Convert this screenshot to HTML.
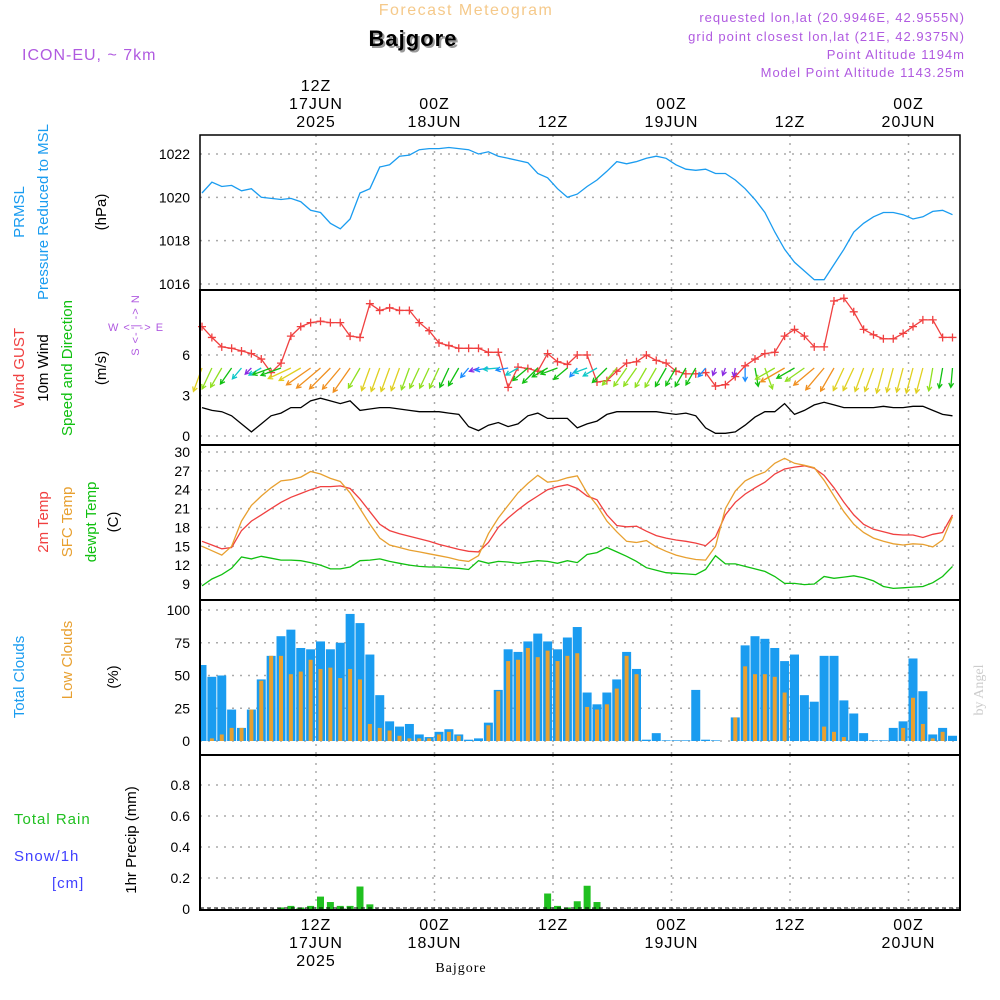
<!DOCTYPE html>
<html><head><meta charset="utf-8"><style>
html,body{margin:0;padding:0;background:#fff;}
svg{display:block;font-family:"Liberation Sans",sans-serif;}
</style></head><body>
<svg id="c" width="1000" height="1000" viewBox="0 0 1000 1000" xmlns="http://www.w3.org/2000/svg">
<text x="466" y="15" font-size="16" fill="#f5c98a" text-anchor="middle" letter-spacing="1.5">Forecast Meteogram</text>
<text x="415" y="48" font-size="22" font-weight="bold" fill="#999" text-anchor="middle" letter-spacing="1">Bajgore</text>
<text x="413" y="46" font-size="22" font-weight="bold" fill="#000" text-anchor="middle" letter-spacing="1">Bajgore</text>
<text x="22" y="60" font-size="16" fill="#b05ae0" letter-spacing="1">ICON-EU, ~ 7km</text>
<g font-size="13" fill="#b05ae0" text-anchor="end" letter-spacing="1">
<text x="965" y="22">requested lon,lat (20.9946E, 42.9555N)</text>
<text x="965" y="41">grid point closest lon,lat (21E, 42.9375N)</text>
<text x="965" y="59">Point Altitude 1194m</text>
<text x="965" y="77">Model Point Altitude 1143.25m</text>
</g>
<text transform="translate(983,690) rotate(-90)" font-family="Liberation Serif,serif" font-size="14" fill="#ccc" text-anchor="middle">by Angel</text>
<g id="grid"></g><g id="marks"></g><g id="frames"></g><g id="labels"></g>
</svg>
<script>
const pressure=[1020.2,1020.7,1020.5,1020.55,1020.3,1020.4,1020.0,1019.95,1019.9,1019.95,1019.8,1019.4,1019.3,1018.8,1018.55,1019.0,1020.2,1020.4,1021.4,1021.5,1021.9,1021.95,1022.2,1022.25,1022.25,1022.3,1022.25,1022.2,1022.0,1022.1,1021.9,1021.8,1021.7,1021.6,1021.1,1020.9,1020.4,1020.0,1020.15,1020.5,1020.8,1021.2,1021.65,1021.55,1021.65,1021.8,1021.9,1021.8,1021.5,1021.3,1021.25,1021.3,1021.1,1021.1,1020.8,1020.4,1019.9,1019.3,1018.4,1017.6,1017.0,1016.6,1016.2,1016.2,1016.9,1017.6,1018.4,1018.8,1019.1,1019.3,1019.3,1019.2,1019.0,1019.1,1019.35,1019.4,1019.2];
const gust=[8.1,7.3,6.6,6.5,6.3,6.1,5.7,4.7,5.4,7.4,8.1,8.4,8.5,8.4,8.4,7.4,7.3,9.8,9.3,9.5,9.3,9.3,8.4,7.8,6.9,6.7,6.5,6.5,6.5,6.2,6.2,3.6,5.1,5.0,4.8,6.1,5.5,5.3,6.0,6.0,4.0,4.1,4.8,5.4,5.5,6.0,5.6,5.4,4.8,4.6,4.6,4.7,3.7,3.8,4.4,5.2,5.7,6.1,6.2,7.4,7.9,7.4,6.6,6.6,10.0,10.2,9.2,7.9,7.5,7.2,7.2,7.6,8.1,8.6,8.6,7.3,7.3];
const wind=[2.1,1.9,1.8,1.5,0.9,0.3,0.9,1.5,1.7,2.1,2.1,2.6,2.8,2.6,2.4,2.6,1.9,2.0,2.1,2.1,2.0,1.9,1.8,1.8,1.8,1.7,1.6,0.7,0.4,0.8,1.0,0.7,0.9,1.5,1.7,1.3,1.3,1.3,0.6,0.9,1.1,1.6,1.8,1.8,1.8,1.8,1.8,1.7,1.6,1.7,1.5,0.6,0.2,0.2,0.3,0.8,1.4,1.8,1.8,2.4,1.6,1.9,2.3,2.5,2.3,2.1,2.1,2.1,2.1,2.2,2.1,2.1,2.2,2.2,1.9,1.6,1.5];
const windDir=[20,25,30,35,40,45,60,70,70,65,60,55,50,45,40,35,30,20,20,20,20,20,25,25,25,25,30,40,70,80,85,80,60,50,45,60,70,50,40,70,60,45,40,35,35,30,30,30,30,30,30,40,20,20,10,0,350,340,60,60,60,55,50,40,30,25,25,20,20,15,15,15,15,15,10,10,5];
const temp2m=[15.8,15.2,14.6,14.8,17.5,19,20,21,22,22.8,23.4,24.0,24.5,24.5,24.6,24.2,22.5,20.5,18.5,17.5,17.0,16.6,16.2,15.8,15.3,14.9,14.5,14.2,14.1,15.6,18,19.5,20.8,22,23,24,24.5,24.8,24.2,23,22.4,20,18.3,18.1,18.2,17.4,16.7,16.3,16.0,15.8,15.5,15.1,16.5,20,22,23.3,24.3,25.2,26.5,27.3,27.6,27.8,27.4,26.3,24.3,22,20,18.5,17.7,17.3,16.9,16.8,16.8,16.4,16.9,17.2,20];
const tempSfc=[15,14.3,13.6,15,19,21.5,23,24.3,25.4,25.6,26.0,26.9,26.5,25.8,25.3,23.5,21,18.5,16.3,15.2,14.8,14.4,14.1,13.8,13.5,13.2,12.8,12.6,13.5,17,19.5,21.5,23.5,25,26.3,25.2,25.4,25.9,26.2,23.5,21.5,19,17.3,15.8,15.6,15.9,14.9,14.2,13.6,13.2,12.9,12.8,15,21,23.8,25.4,26.2,26.8,28.2,29.0,28.2,27.9,27.5,25.5,23,20.5,18.5,17.2,16.3,15.8,15.4,15.2,15.4,15.3,14.9,16,19.7];
const dewpt=[8.7,9.8,10.5,11.5,13.3,13.0,13.4,13.1,12.8,12.8,12.7,12.4,12.0,11.4,11.4,11.7,12.7,12.8,13.0,12.6,12.3,12.0,11.8,11.7,11.7,11.6,11.5,11.3,12.7,12.3,12.6,12.5,12.3,12.5,12.7,12.6,12.3,12.7,12.4,13.7,14.0,14.8,14.1,13.4,12.6,11.6,11.2,10.8,10.7,10.6,10.5,11.3,13.5,12.2,12.2,11.8,11.4,11.0,10.2,9.1,9.1,8.9,9.0,10.2,9.9,10.1,10.3,10.0,9.5,8.6,8.3,8.4,8.5,8.6,9.2,10.2,11.8];
const totalClouds=[58,49,50,24,10,24,47,65,80,85,71,70,76,70,75,97,90,66,35,15,11,13,5,3,7,9,5,1,2,14,39,70,68,76,82,76,70,79,87,37,28,37,47,68,55,1,6,0.5,0.5,0.5,39,1,0.5,0,18,73,80,78,71,61,66,35,30,65,65,31,21,6,0.5,0.5,10,15,63,38,5,10,4];
const lowClouds=[0,2,5,10,10,24,46,65,65,51,53,62,55,56,48,55,47,13,10,8,4,2,2,2,5,7,4,0,0,12,38,61,62,71,64,69,61,65,67,26,24,28,40,65,51,0,0,0,0,0,0,0,0,0,18,57,51,51,49,37,0,0,0,11,7,3,0,0,0,0,0,10,33,13,2,7,0];
const precip=[0,0,0,0,0,0,0,0,0.01,0.02,0.01,0.02,0.08,0.045,0.02,0.02,0.145,0.03,0,0,0,0,0,0,0,0,0,0,0,0,0,0,0,0,0,0.1,0.02,0.01,0.05,0.15,0.045,0,0,0,0,0,0,0,0,0,0,0,0,0,0,0,0,0,0,0,0,0,0,0,0,0,0,0,0,0,0,0,0,0,0,0,0];
const pTicks=[1016,1018,1020,1022];
const wTicks=[0,3,6];
const tTicks=[9,12,15,18,21,24,27,30];
const cTicks=[0,25,50,75,100];
const rTicks=[0,0.2,0.4,0.6,0.8];
const timeLabels=[["12Z","17JUN","2025"],["00Z","18JUN"],["12Z"],["00Z","19JUN"],["12Z"],["00Z","20JUN"]];
const timeHours=[12,24,36,48,60,72];

const NS="http://www.w3.org/2000/svg";
const L=200,R=960;
const xi=i=>202+i*9.875;
const xh=h=>316+(h-12)*9.875;
function lin(d0,d1,p0,p1){return v=>p0+(v-d0)*(p1-p0)/(d1-d0);}
const yP=lin(1016,1022,284,154), yW=lin(0,6,436,355), yT=lin(9,30,584,452), yC=lin(0,100,741,610), yR=lin(0,0.8,909,785);
const panels=[[135,290],[290,445],[445,600],[600,755],[755,910]];
function el(tag,attrs,parent,text){const e=document.createElementNS(NS,tag);for(const k in attrs)e.setAttribute(k,attrs[k]);if(text!==undefined)e.textContent=text;document.getElementById(parent).appendChild(e);return e;}
function line(arr,y,color,name){const pts=arr.map((v,i)=>xi(i).toFixed(1)+","+y(v).toFixed(1)).join(" ");const e=el("polyline",{points:pts,fill:"none",stroke:color,"stroke-width":1.3},"marks");

}

timeHours.forEach(h=>panels.forEach(p=>{el("line",{x1:xh(h),x2:xh(h),y1:p[0],y2:p[1],stroke:"#aaa","stroke-dasharray":"2,6","stroke-width":1.5},"grid");}));
function hgrid(ticks,y,fmt){ticks.forEach(t=>{el("line",{x1:L,x2:R,y1:y(t),y2:y(t),stroke:"#aaa","stroke-dasharray":"2,6","stroke-width":1.5},"grid");
const tx=el("text",{x:190,y:y(t)+5,"font-size":14,"text-anchor":"end",fill:"#000"},"labels",fmt?fmt(t):t);

});}
hgrid(pTicks,yP);hgrid(wTicks,yW);hgrid(tTicks,yT);hgrid(cTicks,yC);hgrid(rTicks,yR,t=>t==0?"0":t.toFixed(1));
panels.forEach((p,k)=>{const r=el("rect",{x:L,y:p[0],width:R-L,height:p[1]-p[0],fill:"none",stroke:"#000","stroke-width":k==0?1:2},"frames");

});
el("rect",{x:L,y:135,width:R-L,height:775,fill:"none",stroke:"#000","stroke-width":1.5},"frames");

line(pressure,yP,"#1a9cf0","pressure-line");
line(gust,yW,"#f04040","gust-line");
gust.forEach((v,i)=>{const x=xi(i),y=yW(v);const g=el("path",{d:`M${x-4},${y}H${x+4}M${x},${y-4}V${y+4}`,stroke:"#f04040","stroke-width":1.3},"marks");

});
line(wind,yW,"#000","wind-speed-line");
function wcol(s){if(s<0.45)return"#8a2be2";if(s<0.9)return"#1a8cff";if(s<1.3)return"#10c8c8";if(s<1.75)return"#10c010";if(s<2.0)return"#90e020";if(s<2.3)return"#e0d020";return"#f09020";}
wind.forEach((s,i)=>{const x=xi(i),y=368;const a=(windDir[i]+180)*Math.PI/180;const len=6+s*9;const dx=Math.sin(a)*len,dy=-Math.cos(a)*len;const x2=x+dx,y2=y+dy;
const ang=Math.atan2(dy,dx);const h=5;const c=wcol(s);
const p=el("path",{d:`M${x},${y}L${x2},${y2}M${x2-h*Math.cos(ang-0.5)},${y2-h*Math.sin(ang-0.5)}L${x2},${y2}L${x2-h*Math.cos(ang+0.5)},${y2-h*Math.sin(ang+0.5)}`,stroke:c,"stroke-width":1.3,fill:"none"},"marks");

});
line(temp2m,yT,"#f04040","temp-2m-line");
line(tempSfc,yT,"#e8a030","temp-sfc-line");
line(dewpt,yT,"#10c010","dewpoint-line");
totalClouds.forEach((v,i)=>{const x=xi(i);const x0=Math.max(L,x-4.5),x1=Math.min(R,x+4.5);const b=el("rect",{x:x0,y:yC(v),width:x1-x0,height:yC(0)-yC(v),fill:"#1a9cf0"},"marks");

});
lowClouds.forEach((v,i)=>{const x=xi(i);const b=el("rect",{x:x-2,y:yC(v),width:4,height:yC(0)-yC(v),fill:"#e8a030"},"marks");

});
precip.forEach((v,i)=>{if(v<=0)return;const x=xi(i);const b=el("rect",{x:x-3.5,y:yR(v),width:7,height:yR(0)-yR(v),fill:"#20c020"},"marks");

});
el("line",{x1:L,x2:R,y1:yR(0)-1,y2:yR(0)-1,stroke:"#000","stroke-dasharray":"4,3","stroke-width":1},"marks");

timeLabels.forEach((lab,k)=>{const x=xh(timeHours[k]);
const top=[...lab].reverse();top.forEach((s,j)=>{const t=el("text",{x:x,y:127-j*18,"font-size":16,"text-anchor":"middle","letter-spacing":1},"labels",s);

});
lab.forEach((s,j)=>{const t=el("text",{x:x,y:930+j*18,"font-size":16,"text-anchor":"middle","letter-spacing":1},"labels",s);

});});
const bl=el("text",{x:461,y:972,"font-size":14,"font-family":"Liberation Serif,serif","text-anchor":"middle","letter-spacing":1},"labels","Bajgore");



function vlab(x,cy,txt,col,name,size){const t=el("text",{transform:`translate(${x},${cy}) rotate(-90)`,"font-size":size||15,fill:col,"text-anchor":"middle"},"labels",txt);

}
vlab(24,212,"PRMSL","#1a9cf0","prmsl-label");
vlab(48,212,"Pressure Reduced to MSL","#1a9cf0","pressure-axis-title");
vlab(106,212,"(hPa)","#000","pressure-unit");
vlab(24,368,"Wind GUST","#f04040","gust-label");
vlab(48,368,"10m Wind","#000","wind-label");
vlab(72,368,"Speed and Direction","#10c010","wind-direction-label");
vlab(106,368,"(m/s)","#000","wind-unit");
vlab(48,522,"2m Temp","#f04040","temp-2m-label");
vlab(72,522,"SFC Temp","#e8a030","temp-sfc-label");
vlab(96,522,"dewpt Temp","#10c010","dewpoint-label");
vlab(118,522,"(C)","#000","temp-unit");
vlab(24,677,"Total Clouds","#1a9cf0","total-clouds-label");
vlab(72,660,"Low Clouds","#e8a030","low-clouds-label");
vlab(118,677,"(%)","#000","cloud-unit");
vlab(136,840,"1hr Precip (mm)","#000","precip-axis-title");
[["Total  Rain",14,824,"#20c020","rain-label"],["Snow/1h",14,861,"#4040ff","snow-label"],["[cm]",52,888,"#4040ff","snow-unit"]].forEach(a=>{const t=el("text",{x:a[1],y:a[2],"font-size":15,fill:a[3],"xml:space":"preserve","letter-spacing":1},"labels",a[0]);

});
const cg=el("text",{transform:"translate(139,325) rotate(-90)","font-size":11,fill:"#b05ae0","text-anchor":"middle","letter-spacing":1},"labels","S <- | -> N");


const cw=el("text",{x:136,y:331,"font-size":11,fill:"#b05ae0","text-anchor":"middle","letter-spacing":1,"xml:space":"preserve"},"labels","W  <-    ->  E");


</script>
</body></html>
